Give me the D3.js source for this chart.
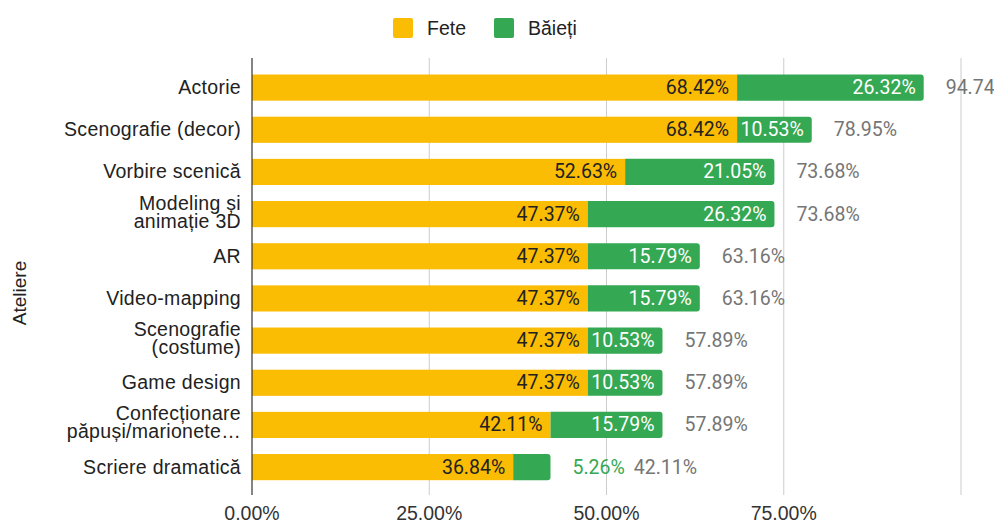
<!DOCTYPE html>
<html><head><meta charset="utf-8">
<script src="https://cdn.jsdelivr.net/npm/d3@7"></script>
<style>
html,body{margin:0;padding:0;background:#fff;}
svg{display:block;}
</style></head>
<body>
<svg id="chart" width="994" height="523"></svg>
<script>
const categories = [
  ["Actorie"],
  ["Scenografie (decor)"],
  ["Vorbire scenică"],
  ["Modeling și", "animație 3D"],
  ["AR"],
  ["Video-mapping"],
  ["Scenografie", "(costume)"],
  ["Game design"],
  ["Confecționare", "păpuși/marionete…"],
  ["Scriere dramatică"]
];
const fete   = [68.42, 68.42, 52.63, 47.37, 47.37, 47.37, 47.37, 47.37, 42.11, 36.84];
const baieti = [26.32, 10.53, 21.05, 26.32, 15.79, 15.79, 10.53, 10.53, 15.79, 5.26];
const totals = [94.74, 78.95, 73.68, 73.68, 63.16, 63.16, 57.89, 57.89, 57.89, 42.11];
const xTicks = [0, 25, 50, 75, 100];
const seriesNames = ["Fete", "Băieți"];
const colors = ["#FBBC04", "#34A853"];
const axisTitle = "Ateliere";

const svg = d3.select("#chart");
const FONT = "'Liberation Sans', Arial, sans-serif";
const NFONT = "Roboto, 'Liberation Sans', Arial, sans-serif";

const x = d3.scaleLinear().domain([0, 100]).range([252, 961]);
const idx = d3.range(categories.length);
const y = d3.scaleBand().domain(idx).range([66.5, 488.2]).paddingInner(0.38).paddingOuter(0.19);
const plotTop = 58, plotBottom = 495;

// gridlines
svg.append("g").selectAll("line").data(xTicks.filter(d => d > 0)).join("line")
  .attr("x1", d => x(d)).attr("x2", d => x(d))
  .attr("y1", plotTop).attr("y2", plotBottom)
  .attr("stroke", "#cccccc").attr("stroke-width", 1);

// tick labels
svg.append("g").selectAll("text").data(xTicks.filter(d => d < 100)).join("text")
  .attr("x", d => x(d)).attr("y", 520)
  .attr("text-anchor", "middle")
  .attr("font-family", FONT).attr("font-size", 19.5).attr("fill", "#333")
  .text(d => d3.format(".2f")(d) + "%");

const bw = y.bandwidth();

// yellow bars
svg.append("g").selectAll("rect").data(idx).join("rect")
  .attr("x", x(0)).attr("y", i => y(i))
  .attr("width", i => x(fete[i]) - x(0)).attr("height", bw)
  .attr("fill", colors[0]);

// green bars with rounded right corners
const r = 3;
svg.append("g").selectAll("path").data(idx).join("path")
  .attr("d", i => {
    const x0 = x(fete[i]), x1 = x(fete[i] + baieti[i]), y0 = y(i), y1 = y(i) + bw;
    return `M${x0},${y0}H${x1 - r}Q${x1},${y0} ${x1},${y0 + r}V${y1 - r}Q${x1},${y1} ${x1 - r},${y1}H${x0}Z`;
  })
  .attr("fill", colors[1]);

// axis line
svg.append("line").attr("x1", x(0)).attr("x2", x(0))
  .attr("y1", plotTop).attr("y2", plotBottom)
  .attr("stroke", "#333").attr("stroke-width", 1.2);

const fmt = v => d3.format(".2f")(v) + "%";
const lbl = svg.append("g").attr("font-family", NFONT).attr("font-size", 19.5);

idx.forEach(i => {
  const cy = y(i) + bw / 2;
  lbl.append("text").attr("x", x(fete[i]) - 8).attr("y", cy + 6.5)
    .attr("text-anchor", "end").attr("fill", "#222").text(fmt(fete[i]));
  const gEnd = x(fete[i] + baieti[i]);
  const gw = gEnd - x(fete[i]);
  let tx = gEnd + 22;
  if (gw > 60) {
    lbl.append("text").attr("x", gEnd - 8).attr("y", cy + 6.5)
      .attr("text-anchor", "end").attr("fill", "#fff").text(fmt(baieti[i]));
  } else {
    const t = lbl.append("text").attr("x", gEnd + 22).attr("y", cy + 6.5)
      .attr("text-anchor", "start").attr("fill", colors[1]).text(fmt(baieti[i]));
    tx = gEnd + 22 + t.node().getComputedTextLength() + 9;
  }
  lbl.append("text").attr("x", tx).attr("y", cy + 6.5)
    .attr("text-anchor", "start").attr("fill", "#757575").text(fmt(totals[i]));
});

// category labels
const cat = svg.append("g").attr("font-family", FONT).attr("font-size", 19.5)
  .attr("letter-spacing", 0.3).attr("fill", "#222");
idx.forEach(i => {
  const cy = y(i) + bw / 2;
  const lines = categories[i];
  const lh = 18;
  const t = cat.append("text").attr("text-anchor", "end");
  lines.forEach((ln, k) => {
    t.append("tspan").attr("x", 241)
      .attr("y", lines.length > 1 ? cy - 4.5 + k * lh : cy + 6.5)
      .text(ln);
  });
});

// axis title
svg.append("text")
  .attr("transform", "translate(26,293) rotate(-90)")
  .attr("text-anchor", "middle")
  .attr("font-family", FONT).attr("font-size", 19).attr("fill", "#222")
  .text(axisTitle);

// legend
const leg = svg.append("g");
const legX = [393, 494];
seriesNames.forEach((n, k) => {
  leg.append("rect").attr("x", legX[k]).attr("y", 18).attr("width", 20).attr("height", 20)
    .attr("rx", 2).attr("fill", colors[k]);
  leg.append("text").attr("x", legX[k] + 34).attr("y", 35)
    .attr("font-family", FONT).attr("font-size", 19.5).attr("fill", "#222").text(n);
});
</script>
</body></html>
